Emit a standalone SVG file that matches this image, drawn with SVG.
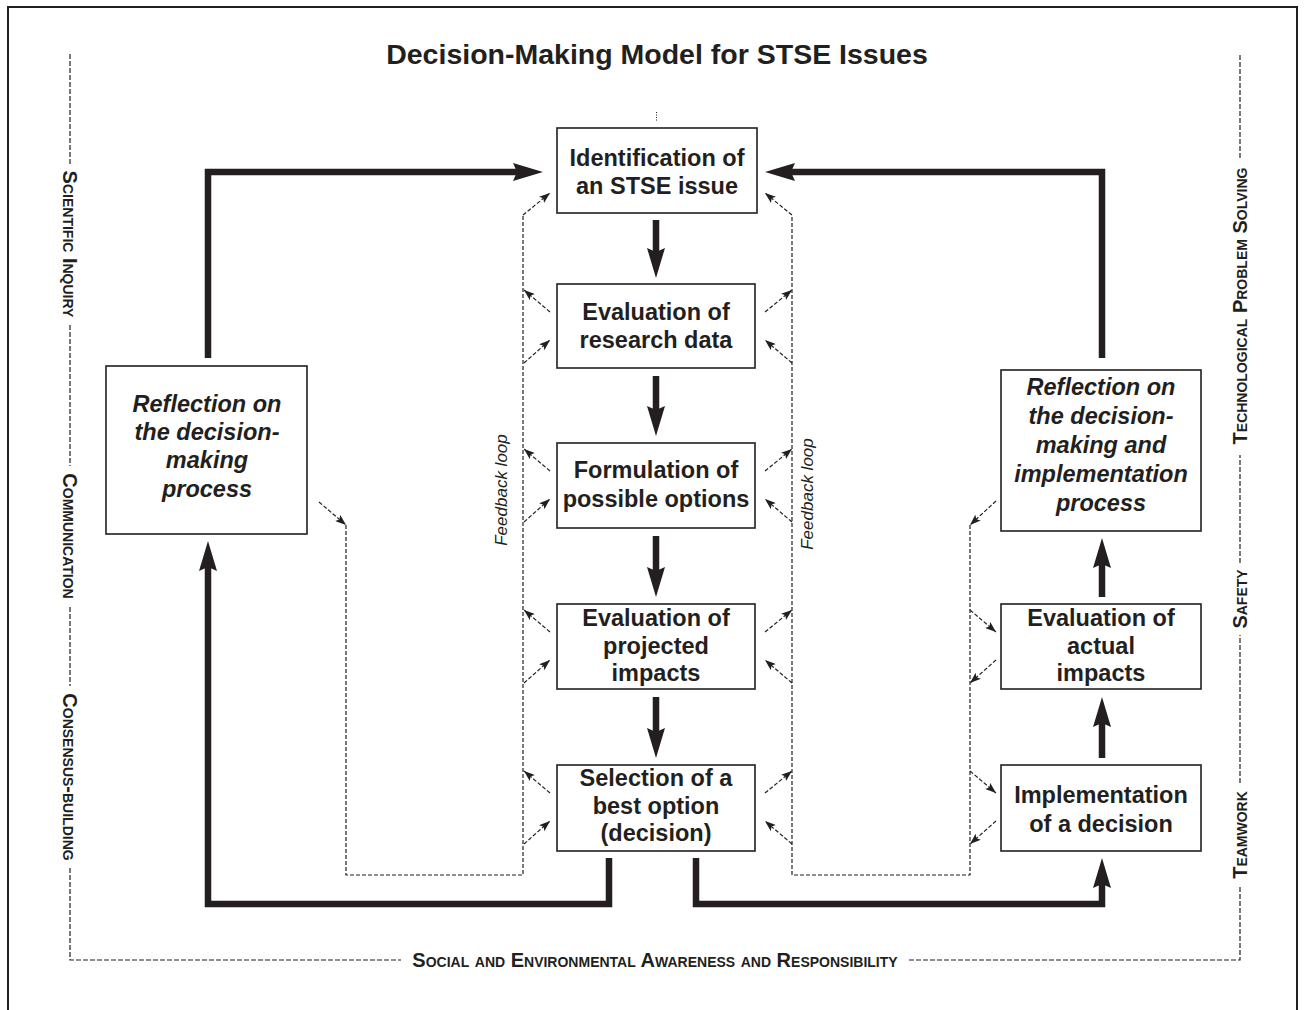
<svg xmlns="http://www.w3.org/2000/svg" width="1304" height="1010" viewBox="0 0 1304 1010">
<style>
.box{fill:#fff;stroke:#231f20;stroke-width:1.6}
.bt{font-family:"Liberation Sans",Arial,sans-serif;font-weight:bold;font-size:23.5px;fill:#231f20;text-anchor:middle}
.it{font-style:italic}
.thick{fill:none;stroke:#231f20;stroke-width:6.5;stroke-linejoin:miter;marker-end:url(#ah)}
.loop{fill:none;stroke:#231f20;stroke-width:1.2;stroke-dasharray:4 2}
.darr{fill:none;stroke:#231f20;stroke-width:1.2;stroke-dasharray:4 2;marker-end:url(#sa)}
.frame{fill:none;stroke:#231f20;stroke-width:1.2;stroke-dasharray:5 2}
.sc{font-family:"Liberation Sans",Arial,sans-serif;font-weight:bold;font-size:20px;font-variant:small-caps;fill:#231f20;text-anchor:middle}
.fb{font-family:"Liberation Sans",Arial,sans-serif;font-style:italic;font-size:17px;fill:#231f20;text-anchor:middle}
</style>
<defs>
<marker id="ah" markerUnits="userSpaceOnUse" viewBox="0 0 30 18" refX="9" refY="9" markerWidth="30" markerHeight="18" orient="auto">
<path d="M0,0 L30,9 L0,18 L4,9 Z" fill="#231f20"/>
</marker>
<marker id="sa" markerUnits="userSpaceOnUse" viewBox="0 0 11 8" refX="11" refY="4" markerWidth="11" markerHeight="8" orient="auto">
<path d="M0,0 L11,4 L0,8 L2.5,4 Z" fill="#231f20"/>
</marker>
</defs>
<rect width="1304" height="1010" fill="#fff"/>
<path d="M8,1010 V7 H1297 V1010" fill="none" stroke="#231f20" stroke-width="2"/>
<text x="657" y="64" font-family="Liberation Sans, Arial, sans-serif" font-weight="bold" font-size="28.5" fill="#231f20" text-anchor="middle">Decision-Making Model for STSE Issues</text>

<g id="frame">
<path class="frame" d="M70,54 V164 M70,325 V466 M70,607 V686 M70,868 V960 H401 M909,960 H1240 V887 M1240,783 V635 M1240,563 V455 M1240,158 V54"/>
<text class="sc" transform="translate(70,244) rotate(90)" y="7.2">Scientific Inquiry</text>
<text class="sc" transform="translate(70,536) rotate(90)" y="7.2">Communication</text>
<text class="sc" transform="translate(70,777) rotate(90)" y="7.2">Consensus-building</text>
<text class="sc" transform="translate(1240,306) rotate(-90)" y="7.2">Technological Problem Solving</text>
<text class="sc" transform="translate(1240,599) rotate(-90)" y="7.2">Safety</text>
<text class="sc" transform="translate(1240,835) rotate(-90)" y="7.2">Teamwork</text>
<text class="sc" x="655" y="967">Social and Environmental Awareness and Responsibility</text>
</g>

<g id="connectors">
<line x1="656.5" y1="112" x2="656.5" y2="122" stroke="#231f20" stroke-width="1" stroke-dasharray="1 1.5"/>
<path class="thick" d="M656,220 V257"/>
<path class="thick" d="M656,376 V415"/>
<path class="thick" d="M656,536 V576"/>
<path class="thick" d="M656,697 V737"/>
<path class="thick" d="M208,358 V172 H522"/>
<path class="thick" d="M1102,358 V172 H786"/>
<path class="thick" d="M609,858 V904 H208 V562"/>
<path class="thick" d="M696,858 V904 H1102 V879"/>
<path class="thick" d="M1102,758 V718"/>
<path class="thick" d="M1102,597 V559"/>

<path class="loop" d="M346,525 V875 H523 V215"/>
<path class="darr" d="M523,215 L550,193"/>
<path class="darr" d="M319,502 L346,525"/>
<path class="loop" d="M970,525 V875 H792 V215"/>
<path class="darr" d="M792,215 L765,193"/>
<path class="darr" d="M996,501 L970,525"/>

<path class="darr" d="M550,312 L524,290"/>
<path class="darr" d="M524,363 L550,340"/>
<path class="darr" d="M550,471 L524,449"/>
<path class="darr" d="M524,522 L550,499"/>
<path class="darr" d="M550,632 L524,610"/>
<path class="darr" d="M524,683 L550,660"/>
<path class="darr" d="M550,793 L524,771"/>
<path class="darr" d="M524,844 L550,821"/>

<path class="darr" d="M765,312 L792,290"/>
<path class="darr" d="M792,363 L765,340"/>
<path class="darr" d="M765,471 L792,449"/>
<path class="darr" d="M792,522 L765,499"/>
<path class="darr" d="M765,632 L792,610"/>
<path class="darr" d="M792,683 L765,660"/>
<path class="darr" d="M765,793 L792,771"/>
<path class="darr" d="M792,844 L765,821"/>

<path class="darr" d="M970,610 L996,632"/>
<path class="darr" d="M996,660 L970,683"/>
<path class="darr" d="M970,771 L996,793"/>
<path class="darr" d="M996,821 L970,844"/>

<text class="fb" transform="translate(507,490) rotate(-90)">Feedback loop</text>
<text class="fb" transform="translate(813,494) rotate(-90)">Feedback loop</text>
</g>

<g id="n-identification">
<rect class="box" x="557" y="128" width="200" height="85"/>
<text class="bt" x="657" y="166">Identification of</text>
<text class="bt" x="657" y="194">an STSE issue</text>
</g>
<g id="n-research">
<rect class="box" x="557" y="284" width="198" height="84"/>
<text class="bt" x="656" y="320">Evaluation of</text>
<text class="bt" x="656" y="348">research data</text>
</g>
<g id="n-options">
<rect class="box" x="557" y="443" width="198" height="85"/>
<text class="bt" x="656" y="478">Formulation of</text>
<text class="bt" x="656" y="507">possible options</text>
</g>
<g id="n-projected">
<rect class="box" x="557" y="604" width="198" height="85"/>
<text class="bt" x="656" y="626">Evaluation of</text>
<text class="bt" x="656" y="654">projected</text>
<text class="bt" x="656" y="681">impacts</text>
</g>
<g id="n-selection">
<rect class="box" x="557" y="765" width="198" height="86"/>
<text class="bt" x="656" y="786">Selection of a</text>
<text class="bt" x="656" y="814">best option</text>
<text class="bt" x="656" y="841">(decision)</text>
</g>
<g id="n-reflection-left">
<rect class="box" x="106" y="366" width="201" height="168"/>
<text class="bt it" x="207" y="412">Reflection on</text>
<text class="bt it" x="207" y="440">the decision-</text>
<text class="bt it" x="207" y="468">making</text>
<text class="bt it" x="207" y="497">process</text>
</g>
<g id="n-reflection-right">
<rect class="box" x="1001" y="370" width="200" height="161"/>
<text class="bt it" x="1101" y="395">Reflection on</text>
<text class="bt it" x="1101" y="424">the decision-</text>
<text class="bt it" x="1101" y="453">making and</text>
<text class="bt it" x="1101" y="482">implementation</text>
<text class="bt it" x="1101" y="511">process</text>
</g>
<g id="n-actual">
<rect class="box" x="1001" y="604" width="200" height="85"/>
<text class="bt" x="1101" y="626">Evaluation of</text>
<text class="bt" x="1101" y="654">actual</text>
<text class="bt" x="1101" y="681">impacts</text>
</g>
<g id="n-implementation">
<rect class="box" x="1001" y="765" width="200" height="86"/>
<text class="bt" x="1101" y="803">Implementation</text>
<text class="bt" x="1101" y="832">of a decision</text>
</g>
</svg>
